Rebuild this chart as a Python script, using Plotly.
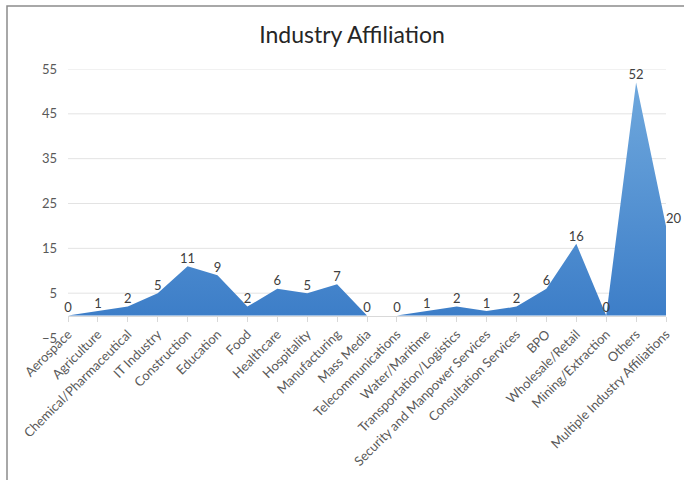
import plotly.graph_objects as go

# Survey respondents by industry
categories = [
    "Aerospace", "Agriculture", "Chemical/Pharmaceutical", "IT Industry",
    "Construction", "Education", "Food", "Healthcare", "Hospitality",
    "Manufacturing", "Mass Media", "Telecommunications", "Water/Maritime",
    "Transportation/Logistics", "Security and Manpower Services",
    "Consultation Services", "BPO", "Wholesale/Retail", "Mining/Extraction",
    "Others", "Multiple Industry Affiliations",
]
counts = [0, 1, 2, 5, 11, 9, 2, 6, 5, 7, 0, 0, 1, 2, 1, 2, 6, 16, 0, 52, 20]
y_ticks = [-5, 5, 15, 25, 35, 45, 55]
y_range = [-5, 55]

W, H = 684, 480
ML, MR, MT, MB = 68, 18, 69, 142
plot_w = W - ML - MR
plot_h = H - MT - MB

FONT = "Lato, 'Open Sans', sans-serif"
TEXT = "#404040"
AXIS_TEXT = "#595959"

positions = ["top center"] * (len(counts) - 1) + ["top right"]

fig = go.Figure(
    go.Scatter(
        x=categories,
        y=counts,
        mode="lines+text",
        fill="tozeroy",
        line=dict(width=0, color="#4A89CF"),
        fillgradient=dict(
            type="vertical",
            colorscale=[[0, "#3D7EC8"], [1, "#6FA8DD"]],
        ),
        text=[str(v) for v in counts],
        textposition=positions,
        textfont=dict(family=FONT, size=13, color=TEXT),
        cliponaxis=False,
        hoverinfo="x+y",
    )
)

# light horizontal gridlines above the baseline
for v in y_ticks:
    if v > 0:
        fig.add_hline(y=v, line=dict(color="#E3E3E3", width=1), layer="below")

# chart frame
fig.add_shape(
    type="rect", xref="paper", yref="paper",
    x0=(7 - ML) / plot_w, x1=(W + 10 - ML) / plot_w,
    y0=-(MB + 10) / plot_h, y1=(H - MB - 6) / plot_h,
    line=dict(color="#8C8C8C", width=1.5), fillcolor="rgba(0,0,0,0)",
    layer="below",
)

# category axis crosses the value axis at zero
zero_pos = (0 - y_range[0]) / (y_range[1] - y_range[0])

fig.update_layout(
    template="none",
    width=W, height=H,
    margin=dict(l=ML, r=MR, t=MT, b=MB),
    paper_bgcolor="white", plot_bgcolor="white",
    showlegend=False,
    title=dict(
        text="Industry Affiliation",
        x=352 / W, xref="container", xanchor="center",
        y=1 - 35 / H, yref="container", yanchor="middle",
        font=dict(family=FONT, size=23, color="#262626"),
    ),
    xaxis=dict(
        type="category",
        range=[0, len(categories) - 1],
        anchor="free", position=zero_pos,
        automargin=False,
        showgrid=False, zeroline=False,
        showline=True, linecolor="#D9D9D9", linewidth=1,
        ticks="outside", ticklen=5, tickcolor="#D9D9D9",
        tickangle=-45,
        tickfont=dict(family=FONT, size=13, color=AXIS_TEXT),
    ),
    yaxis=dict(
        range=y_range,
        tickvals=y_ticks,
        automargin=False,
        showgrid=False, zeroline=False, showline=False,
        ticks="",
        ticklabelstandoff=10,
        tickfont=dict(family=FONT, size=13, color=AXIS_TEXT),
    ),
)

fig.write_html("out.html")
